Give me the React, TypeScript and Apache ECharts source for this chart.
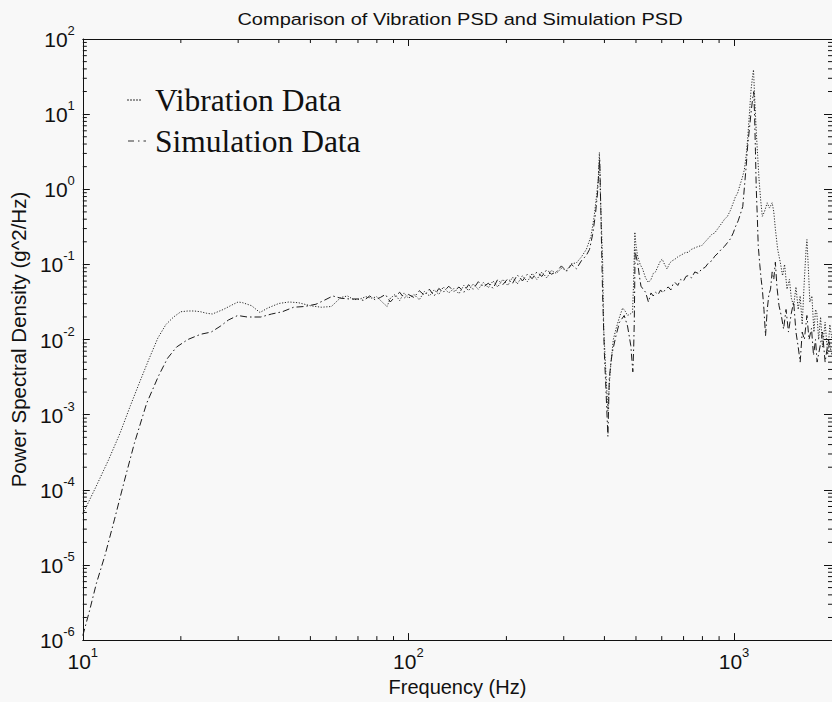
import React, { useEffect, useRef } from 'react';
import * as echarts from 'echarts';

const TITLE = 'Comparison of Vibration PSD and Simulation PSD';
const X_NAME = 'Frequency (Hz)';
const Y_NAME = 'Power Spectral Density (g^2/Hz)';
const LEGEND_NAMES = ['Vibration Data', 'Simulation Data'];

const X_MIN = 10;
const X_MAX = 2000;
const Y_MIN = 1e-6;
const Y_MAX = 1e2;

// minor tick positions (axis decoration)
const X_MINOR = [20, 30, 40, 50, 60, 70, 80, 90, 200, 300, 400, 500, 600, 700, 800, 900];
const Y_DECADES = [-6, -5, -4, -3, -2, -1, 0, 1];
const MINOR_MULT = [2, 3, 4, 5, 6, 7, 8, 9];

// [frequency Hz, log10(PSD)]
const vibration: [number, number][] = [
  [10, -4.32], [11, -3.95], [12, -3.6], [13, -3.25], [14, -2.88], [15, -2.55], [16, -2.25],
  [17, -1.98], [18, -1.8], [19, -1.7], [20, -1.63], [21, -1.62], [22, -1.62], [23, -1.63],
  [24, -1.65], [25, -1.66], [27, -1.6], [29, -1.53], [30, -1.5], [31, -1.51], [33, -1.55],
  [35, -1.64], [37, -1.58], [40, -1.52], [43, -1.5], [46, -1.51], [50, -1.55], [54, -1.57],
  [58, -1.56], [62, -1.44], [65, -1.42], [68, -1.47], [71, -1.46], [74, -1.43], [77, -1.45],
  [80, -1.43], [83, -1.5], [86, -1.56], [88, -1.45], [91, -1.4], [94, -1.48], [97, -1.38],
  [100, -1.45], [104, -1.4], [108, -1.47], [112, -1.36], [116, -1.42], [120, -1.34], [124, -1.4],
  [128, -1.3], [133, -1.38], [138, -1.32], [143, -1.39], [148, -1.28], [153, -1.35], [158, -1.26],
  [164, -1.33], [170, -1.24], [176, -1.31], [182, -1.22], [188, -1.3], [195, -1.2], [202, -1.28],
  [209, -1.17], [216, -1.26], [224, -1.15], [232, -1.23], [240, -1.12], [248, -1.2], [257, -1.1],
  [266, -1.18], [275, -1.08], [285, -1.12], [295, -1.05], [306, -1.08], [317, -0.99], [328, -0.98],
  [340, -0.9], [352, -0.8], [364, -0.62], [372, -0.36], [378, -0.1], [383, 0.13], [386, 0.49],
  [389, -0.1], [395, -0.98], [398, -1.86], [405, -2.52], [410, -2.95], [414, -2.6], [419, -2.3],
  [426, -2.0], [434, -1.86], [445, -1.7], [455, -1.58], [463, -1.62], [471, -1.68], [480, -1.66],
  [488, -1.64], [492, -1.2], [496, -0.57], [500, -0.75], [506, -0.89], [515, -1.0], [524, -1.06],
  [535, -1.18], [546, -1.24], [556, -1.2], [565, -1.12], [574, -1.1], [585, -1.02], [595, -0.95],
  [602, -0.93], [612, -1.0], [623, -1.06], [635, -0.98], [647, -0.95], [659, -0.93], [672, -0.9],
  [685, -0.88], [698, -0.86], [710, -0.84], [723, -0.84], [740, -0.8], [758, -0.78], [777, -0.76],
  [796, -0.75], [815, -0.7], [835, -0.65], [855, -0.6], [873, -0.58], [893, -0.52], [914, -0.46],
  [935, -0.4], [955, -0.36], [975, -0.28], [995, -0.18], [1010, -0.1], [1026, -0.05], [1042, 0.05],
  [1060, 0.15], [1076, 0.26], [1090, 0.45], [1101, 0.66], [1115, 1.0], [1128, 1.32], [1140, 1.5],
  [1148, 1.59], [1158, 1.2], [1170, 0.79], [1182, 0.45], [1194, 0.13], [1208, -0.15], [1222, -0.36],
  [1240, -0.3], [1265, -0.18], [1285, -0.25], [1310, -0.18], [1325, -0.3], [1340, -0.53],
  [1362, -0.8], [1387, -0.97], [1410, -1.15], [1430, -1.0], [1455, -1.33], [1480, -1.2],
  [1500, -1.45], [1525, -1.55], [1550, -1.3], [1575, -1.6], [1597, -1.42], [1620, -1.8],
  [1645, -1.2], [1665, -0.8], [1675, -0.67], [1690, -1.0], [1710, -1.5], [1735, -1.42],
  [1760, -1.9], [1780, -1.6], [1796, -1.64], [1820, -2.0], [1845, -1.7], [1870, -2.1],
  [1905, -1.77], [1940, -2.2], [1970, -1.8], [2000, -2.0],
];

const simulation: [number, number][] = [
  [10, -5.94], [10.5, -5.6], [11, -5.25], [11.7, -4.87], [12.5, -4.4], [13.4, -3.89], [14.4, -3.38],
  [15.7, -2.85], [17.1, -2.48], [18.2, -2.25], [19.4, -2.1], [21, -2.0], [23, -1.93], [24.8, -1.9],
  [26.5, -1.82], [28, -1.74], [29.9, -1.68], [32, -1.7], [35.2, -1.7], [38, -1.66], [41, -1.63],
  [44.4, -1.57], [48, -1.56], [52, -1.53], [55, -1.48], [58.6, -1.42], [62, -1.45], [66, -1.46],
  [70, -1.46], [73, -1.48], [76, -1.42], [79, -1.47], [82, -1.44], [85, -1.4], [88, -1.5],
  [91, -1.43], [94, -1.37], [97, -1.45], [100, -1.4], [104, -1.44], [108, -1.35], [112, -1.41],
  [116, -1.33], [120, -1.42], [124, -1.32], [128, -1.37], [133, -1.29], [138, -1.36], [143, -1.3],
  [148, -1.37], [153, -1.27], [158, -1.33], [164, -1.23], [170, -1.3], [176, -1.25], [182, -1.32],
  [188, -1.2], [195, -1.27], [202, -1.19], [209, -1.25], [216, -1.14], [224, -1.22], [232, -1.13],
  [240, -1.19], [248, -1.1], [257, -1.16], [266, -1.07], [275, -1.13], [285, -1.1], [295, -1.02],
  [306, -1.09], [317, -1.0], [328, -1.06], [340, -0.95], [352, -0.88], [360, -0.8], [368, -0.6],
  [375, -0.35], [381, -0.05], [385, 0.3], [387, 0.4], [390, -0.3], [395, -1.42], [400, -2.2],
  [405, -2.74], [410, -3.29], [414, -2.52], [419, -2.3], [423, -2.17], [434, -1.95], [445, -1.77],
  [460, -1.68], [471, -1.82], [482, -2.08], [489, -2.43], [492, -2.1], [494, -1.77], [497, -0.8],
  [501, -0.9], [506, -0.98], [512, -1.15], [518, -1.29], [526, -1.33], [535, -1.37], [546, -1.5],
  [556, -1.38], [565, -1.42], [574, -1.37], [585, -1.4], [595, -1.34], [605, -1.38], [616, -1.33],
  [628, -1.3], [640, -1.34], [650, -1.26], [659, -1.24], [672, -1.28], [686, -1.2], [700, -1.22],
  [712, -1.16], [723, -1.15], [740, -1.18], [758, -1.1], [777, -1.12], [796, -1.06], [815, -1.04],
  [835, -0.98], [855, -0.95], [873, -0.89], [893, -0.85], [914, -0.8], [935, -0.76], [955, -0.71],
  [975, -0.66], [995, -0.58], [1010, -0.5], [1030, -0.42], [1048, -0.32], [1064, -0.23],
  [1080, 0.1], [1092, 0.35], [1101, 0.57], [1115, 0.8], [1130, 1.05], [1143, 1.23], [1150, 1.3],
  [1157, 0.97], [1164, 0.5], [1170, 0.04], [1180, -0.4], [1187, -0.75], [1200, -1.0], [1212, -1.2],
  [1222, -1.33], [1236, -1.6], [1250, -1.95], [1265, -1.6], [1280, -1.4], [1295, -1.33],
  [1310, -1.1], [1325, -1.2], [1340, -0.97], [1355, -1.3], [1375, -1.55], [1400, -1.7],
  [1420, -1.86], [1445, -1.6], [1470, -1.9], [1500, -1.65], [1525, -1.5], [1550, -1.9],
  [1575, -2.1], [1597, -2.3], [1620, -1.9], [1645, -2.0], [1675, -1.68], [1700, -2.0],
  [1730, -1.85], [1755, -2.21], [1780, -2.0], [1800, -2.3], [1840, -2.08], [1870, -1.9],
  [1905, -2.3], [1950, -2.0], [2000, -2.2],
];

const SANS = 'Liberation Sans, Arial, Helvetica, sans-serif';
const SERIF = 'Liberation Serif, Times New Roman, serif';
const INK = '#111';

function powLabel(v: number): string {
  const e = Math.log10(v);
  const r = Math.round(e);
  if (Math.abs(e - r) > 1e-6) return '';
  return `{b|10}{s|${r}}`;
}

const richLabel = {
  b: { fontSize: 21, fontFamily: SANS, color: INK, lineHeight: 26, verticalAlign: 'bottom' },
  s: { fontSize: 13, fontFamily: SANS, color: INK, lineHeight: 14, verticalAlign: 'top' },
};

export default function App() {
  const ref = useRef<HTMLDivElement>(null);
  useEffect(() => {
    if (!ref.current) return;
    const chart = echarts.init(ref.current, undefined, { renderer: 'svg' });
    const yMinor: number[] = [];
    Y_DECADES.forEach((d) => MINOR_MULT.forEach((m) => yMinor.push(m * Math.pow(10, d))));

    const tickStyle = { stroke: INK, lineWidth: 1 };

    const option: any = {
      animation: false,
      backgroundColor: '#f8f8f8',
      grid: { left: 80, right: -6, top: 39, bottom: 60 },
      xAxis: [
        {
          type: 'log', logBase: 10, min: X_MIN, max: X_MAX, position: 'bottom',
          name: X_NAME, nameLocation: 'middle', nameGap: 33,
          nameTextStyle: { fontSize: 20, fontFamily: SANS, color: INK },
          axisLine: { show: true, lineStyle: { color: INK, width: 1 } },
          axisTick: { show: true, inside: true, length: 7, lineStyle: { color: INK } },
          axisLabel: { formatter: powLabel, margin: 6, rich: richLabel, showMaxLabel: false },
          splitLine: { show: false },
        },
        {
          type: 'log', logBase: 10, min: X_MIN, max: X_MAX, position: 'top',
          axisLine: { show: true, lineStyle: { color: INK, width: 1 } },
          axisTick: { show: true, inside: true, length: 7, lineStyle: { color: INK } },
          axisLabel: { show: false },
          splitLine: { show: false },
        },
      ],
      yAxis: [
        {
          type: 'log', logBase: 10, min: Y_MIN, max: Y_MAX, position: 'left',
          name: Y_NAME, nameLocation: 'middle', nameGap: 49,
          nameTextStyle: { fontSize: 20.5, fontFamily: SANS, color: INK },
          axisLine: { show: true, lineStyle: { color: INK, width: 1 } },
          axisTick: { show: true, inside: true, length: 7, lineStyle: { color: INK } },
          axisLabel: { formatter: powLabel, margin: 8, rich: richLabel, padding: [0, 0, 4, 0] },
          splitLine: { show: false },
        },
        {
          type: 'log', logBase: 10, min: Y_MIN, max: Y_MAX, position: 'right',
          axisLine: { show: true, lineStyle: { color: INK, width: 1 } },
          axisTick: { show: true, inside: true, length: 8, lineStyle: { color: INK } },
          axisLabel: { show: false },
          splitLine: { show: false },
        },
      ],
      graphic: [
        {
          type: 'text', x: 460, y: 10, scaleY: 0.87,
          style: { text: TITLE, fontSize: 20, fontFamily: SANS, fill: INK, align: 'center', verticalAlign: 'top' },
        },
        {
          type: 'line', shape: { x1: 127, y1: 100, x2: 142, y2: 100 },
          style: { stroke: '#333', lineWidth: 1, lineDash: [2, 1] },
        },
        {
          type: 'text', x: 155, y: 100,
          style: { text: LEGEND_NAMES[0], fontSize: 31.5, fontFamily: SERIF, fill: INK, align: 'left', verticalAlign: 'middle' },
        },
        {
          type: 'line', shape: { x1: 128, y1: 141, x2: 146, y2: 141 },
          style: { stroke: '#333', lineWidth: 1, lineDash: [6, 4, 1.5, 4] },
        },
        {
          type: 'text', x: 155, y: 141,
          style: { text: LEGEND_NAMES[1], fontSize: 31.5, fontFamily: SERIF, fill: INK, align: 'left', verticalAlign: 'middle' },
        },
      ],
      series: [
        {
          name: LEGEND_NAMES[0], type: 'line', xAxisIndex: 0, yAxisIndex: 0,
          data: vibration.map(([f, e]) => [f, Math.pow(10, e)]),
          showSymbol: false, symbol: 'none',
          lineStyle: { color: '#2a2a2a', width: 1, type: [1.2, 1.6] },
        },
        {
          name: LEGEND_NAMES[1], type: 'line', xAxisIndex: 0, yAxisIndex: 0,
          data: simulation.map(([f, e]) => [f, Math.pow(10, e)]),
          showSymbol: false, symbol: 'none',
          lineStyle: { color: '#1a1a1a', width: 1, type: [7, 3, 1.5, 3] },
        },
        {
          type: 'custom', xAxisIndex: 0, yAxisIndex: 0, silent: true,
          data: X_MINOR.map((v) => [v, 1]),
          renderItem: (params: any, api: any) => {
            const cs = params.coordSys;
            const x = api.coord([api.value(0), 1])[0];
            const yb = cs.y + cs.height;
            return {
              type: 'group',
              children: [
                { type: 'line', shape: { x1: x, y1: yb, x2: x, y2: yb - 4 }, style: tickStyle },
                { type: 'line', shape: { x1: x, y1: cs.y, x2: x, y2: cs.y + 4 }, style: tickStyle },
              ],
            };
          },
        },
        {
          type: 'custom', xAxisIndex: 0, yAxisIndex: 0, silent: true,
          data: yMinor.map((v) => [100, v]),
          renderItem: (params: any, api: any) => {
            const cs = params.coordSys;
            const y = api.coord([100, api.value(1)])[1];
            const xr = cs.x + cs.width;
            return {
              type: 'group',
              children: [
                { type: 'line', shape: { x1: cs.x, y1: y, x2: cs.x + 4, y2: y }, style: tickStyle },
                { type: 'line', shape: { x1: xr, y1: y, x2: xr - 4, y2: y }, style: tickStyle },
              ],
            };
          },
        },
      ],
    };
    chart.setOption(option);
    return () => chart.dispose();
  }, []);
  return (
    <div
      ref={ref}
      style={{ position: 'fixed', left: 0, top: 0, width: 832, height: 702 }}
    />
  );
}
